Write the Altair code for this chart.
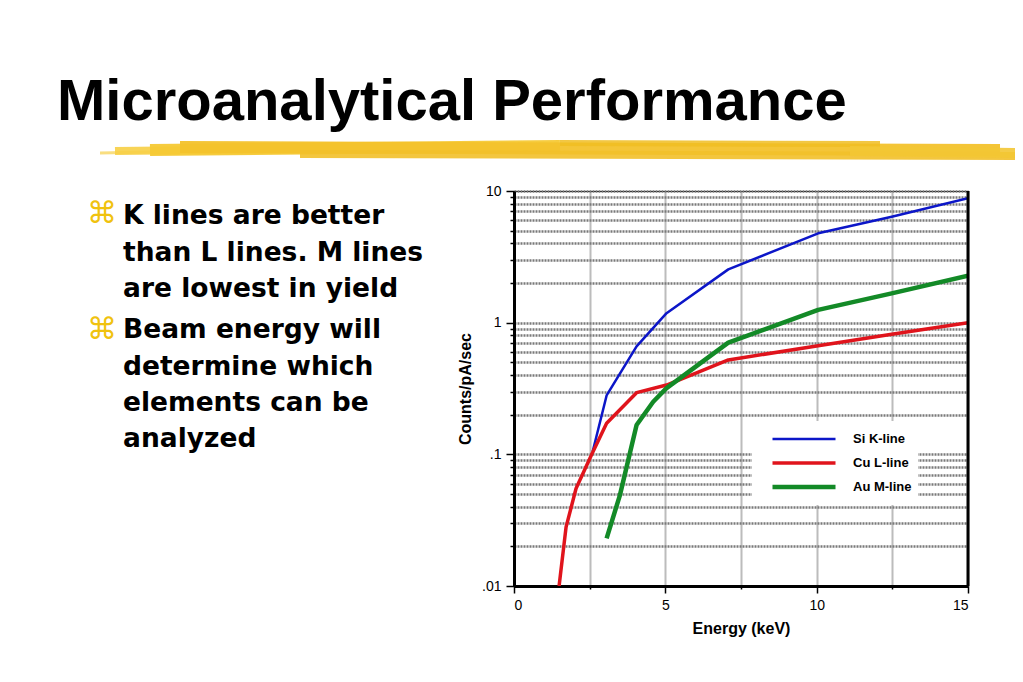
import altair as alt
import pandas as pd

# ---------------- data ----------------
series_names = ["Si K-line", "Cu L-line", "Au M-line"]
series_colors = ["#0c16c8", "#e0141c", "#138a27"]
series_widths = [2.5, 4.5, 4.5]

si_energy = [2.6, 3.06, 4.05, 5.04, 7.08, 10.05, 12.48, 15.0]
si_counts = [0.105, 0.28, 0.66, 1.18, 2.54, 4.77, 6.38, 8.8]

cu_energy = [1.49, 1.72, 2.05, 2.57, 3.06, 4.05, 5.04, 7.08, 10.05, 12.48, 15.0]
cu_counts = [0.01, 0.028, 0.055, 0.1, 0.172, 0.294, 0.336, 0.521, 0.668, 0.816, 1.0]

au_energy = [3.06, 3.5, 4.05, 4.6, 5.04, 7.08, 10.05, 12.48, 15.0]
au_counts = [0.023, 0.049, 0.167, 0.251, 0.318, 0.705, 1.25, 1.67, 2.27]

title_text = "Microanalytical Performance"
bullet_1 = ["K lines are better", "than L lines. M lines", "are lowest in yield"]
bullet_2 = ["Beam energy will", "determine which", "elements can be", "analyzed"]

x_tick_values = [0, 2.5, 5, 7.5, 10, 12.5, 15]
y_tick_values = sorted(set([round(m * d, 4) for d in [0.01, 0.1, 1] for m in range(1, 10)] + [10]))

rows = []
for name, xs, ys in [(series_names[0], si_energy, si_counts),
                     (series_names[1], cu_energy, cu_counts),
                     (series_names[2], au_energy, au_counts)]:
    for i, (e, c) in enumerate(zip(xs, ys)):
        rows.append({"series": name, "energy": e, "counts": c, "order": i})
df = pd.DataFrame(rows)

one = pd.DataFrame({"k": [0]})

# plot origin on the page (px)
OX, OY = 514, 191

x_scale = alt.Scale(domain=[0, 15], nice=False, zero=False)
y_scale = alt.Scale(type="log", domain=[0.01, 10], nice=False)

x_axis = alt.Axis(
    values=x_tick_values,
    labelExpr="datum.value % 5 == 0 ? datum.label : ''",
    format="d",
    title="Energy (keV)",
    titleFont="Liberation Sans", titleFontSize=16, titleFontWeight="bold", titleColor="black",
    titlePadding=8,
    labelFont="Liberation Sans", labelFontSize=14, labelColor="black", labelPadding=5,
    domainColor="black", domainWidth=3,
    tickColor="black", tickWidth=1.5,
    tickSize={"condition": {"test": "datum.value % 5 == 0", "value": 7}, "value": 3},
    grid=True, gridColor="#7a7a7a", gridWidth=2, gridDash=[1, 1],
)

y_axis = alt.Axis(
    values=y_tick_values,
    labelExpr="datum.value == 10 ? '10' : datum.value == 1 ? '1' : datum.value == 0.1 ? '.1' : datum.value == 0.01 ? '.01' : ''",
    title="Counts/pA/sec",
    titleFont="Liberation Sans", titleFontSize=16, titleFontWeight="bold", titleColor="black",
    titlePadding=8,
    labelFont="Liberation Sans", labelFontSize=14, labelColor="black", labelPadding=5,
    domainColor="black", domainWidth=3,
    tickColor="black", tickWidth=1.5,
    tickSize={"condition": {"test": "indexof([0.01, 0.1, 1, 10], datum.value) >= 0", "value": 8}, "value": 4},
    grid=True, gridColor="#7a7a7a", gridWidth=2.5, gridDash=[2, 1],
)

legend = alt.Legend(
    title=None, orient="none", legendX=752 - OX, legendY=421 - OY,
    fillColor="white", padding=6, symbolType="stroke", symbolSize=3969,
    symbolOffset=12, labelOffset=15, clipHeight=24, rowPadding=0,
    labelFont="Liberation Sans", labelFontSize=13, labelFontWeight="bold", labelColor="black",
)

lines = alt.Chart(df).mark_line(strokeJoin="round", strokeCap="butt", clip=True).encode(
    x=alt.X("energy:Q", scale=x_scale, axis=x_axis),
    y=alt.Y("counts:Q", scale=y_scale, axis=y_axis),
    color=alt.Color("series:N", scale=alt.Scale(domain=series_names, range=series_colors), legend=legend),
    strokeWidth=alt.StrokeWidth("series:N", scale=alt.Scale(domain=series_names, range=series_widths), legend=legend),
    order="order:Q",
)

right_border = alt.Chart(one).mark_rule(color="black", strokeWidth=3).encode(x=alt.datum(15))

# decorative yellow brush stroke under the title
def brush(x1, y1, x2, y2, w, color, op):
    return alt.Chart(one).mark_rule(color=color, strokeWidth=w, strokeCap="butt", opacity=op).encode(
        x=alt.value(x1 - OX), y=alt.value(y1 - OY), x2=alt.value(x2 - OX), y2=alt.value(y2 - OY))

brushes = [
    brush(100, 153, 200, 151, 3, "#f7d660", 0.8),
    brush(115, 151, 400, 148, 8, "#f7cf45", 0.9),
    brush(150, 150, 560, 146, 12, "#f5c935", 0.95),
    brush(180, 147, 1000, 150, 12, "#f3c22c", 0.95),
    brush(300, 154, 1020, 156, 8, "#f2c02a", 0.9),
    brush(560, 143, 880, 144, 6, "#f0bd22", 0.85),
    brush(850, 151, 1023, 153, 10, "#f3c634", 0.9),
]

title = alt.Chart(one).mark_text(
    text=title_text, font="Liberation Sans", fontSize=58, fontWeight="bold",
    align="left", baseline="alphabetic", color="black"
).encode(x=alt.value(57 - OX), y=alt.value(120 - OY))

def para(lines_, y0):
    return alt.Chart(one).mark_text(
        font="DejaVu Sans", fontSize=26.5, fontWeight="bold", align="left", baseline="alphabetic",
        color="black", lineHeight=36.3
    ).encode(x=alt.value(123 - OX), y=alt.value(y0 - OY), text=alt.value(lines_))

def bullet(y):
    return alt.Chart(one).mark_text(
        text="\u2318", font="DejaVu Sans", fontSize=30, align="center", baseline="middle", color="#f0c20f"
    ).encode(x=alt.value(102 - OX), y=alt.value(y - OY))

chart = alt.layer(
    *brushes, title, bullet(214), para(bullet_1, 224.3), bullet(330), para(bullet_2, 338.3),
    lines, right_border
).properties(
    width=454, height=395,
    padding={"left": OX - 8, "top": OY - 8, "right": 1007 - (OX - 8) - 454, "bottom": 666 - (OY - 8) - 395},
    autosize=alt.AutoSizeParams(type="none"),
    background="white",
).configure_view(stroke="black", strokeWidth=1)

chart.save("out.html", embed_options={"renderer": "svg", "actions": False})
